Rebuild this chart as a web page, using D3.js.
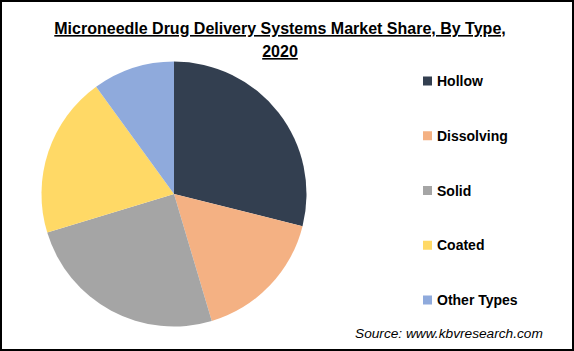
<!DOCTYPE html>
<html lang="en">
<head>
<meta charset="UTF-8">
<title>Microneedle Drug Delivery Systems Market Share</title>
<script src="https://d3js.org/d3.v7.min.js"></script>
<style>
    body { margin: 0; background: #fff; }
    svg { display: block; font-family: "Liberation Sans", Arial, sans-serif; }
    .title { font-size: 16px; font-weight: bold; text-decoration: underline; fill: #000; }
    .legend text { font-size: 14px; font-weight: bold; fill: #000; }
    .source { font-size: 13.7px; font-style: italic; fill: #000; }
</style>
</head>
<body>
<svg id="chart" width="574" height="351"></svg>
<script>
// slices, clockwise from 12 o'clock
var categories = ["Hollow", "Dissolving", "Solid", "Coated", "Other Types"];
var shares = [28.9, 16.5, 24.9, 19.7, 10.0];
var colors = ["#333F50", "#F4B183", "#A5A5A5", "#FFD966", "#8FAADC"];

var titleLines = ["Microneedle Drug Delivery Systems Market Share, By Type,", "2020"];
var sourceText = "Source: www.kbvresearch.com";

var width = 574, height = 351;
var svg = d3.select("#chart");

// outer frame
svg.append("rect")
    .attr("x", 1).attr("y", 1)
    .attr("width", width - 2).attr("height", height - 2)
    .attr("fill", "#fff")
    .attr("stroke", "#000")
    .attr("stroke-width", 2);

svg.selectAll(".title")
    .data(titleLines)
  .enter().append("text")
    .attr("class", "title")
    .attr("x", 280)
    .attr("y", function(d, i) { return 34 + i * 23; })
    .attr("text-anchor", "middle")
    .text(function(d) { return d; });

var data = categories.map(function(c, i) { return {name: c, value: shares[i], color: colors[i]}; });

var pie = d3.pie().sort(null).value(function(d) { return d.value; });
var arc = d3.arc().innerRadius(0).outerRadius(132.5);

svg.append("g")
    .attr("transform", "translate(174,194)")
  .selectAll("path")
    .data(pie(data))
  .enter().append("path")
    .attr("d", arc)
    .attr("fill", function(d) { return d.data.color; });

// legend
var ly = d3.scalePoint().domain(categories).range([81, 300]);

var legend = svg.append("g").attr("class", "legend")
  .selectAll("g")
    .data(data)
  .enter().append("g")
    .attr("transform", function(d) { return "translate(423," + ly(d.name) + ")"; });

legend.append("rect")
    .attr("x", 0).attr("y", -4.5)
    .attr("width", 9).attr("height", 9)
    .attr("fill", function(d) { return d.color; });

legend.append("text")
    .attr("x", 14)
    .attr("dy", "0.36em")
    .text(function(d) { return d.name; });

svg.append("text")
    .attr("class", "source")
    .attr("x", 355)
    .attr("y", 338)
    .text(sourceText);
</script>
</body>
</html>
